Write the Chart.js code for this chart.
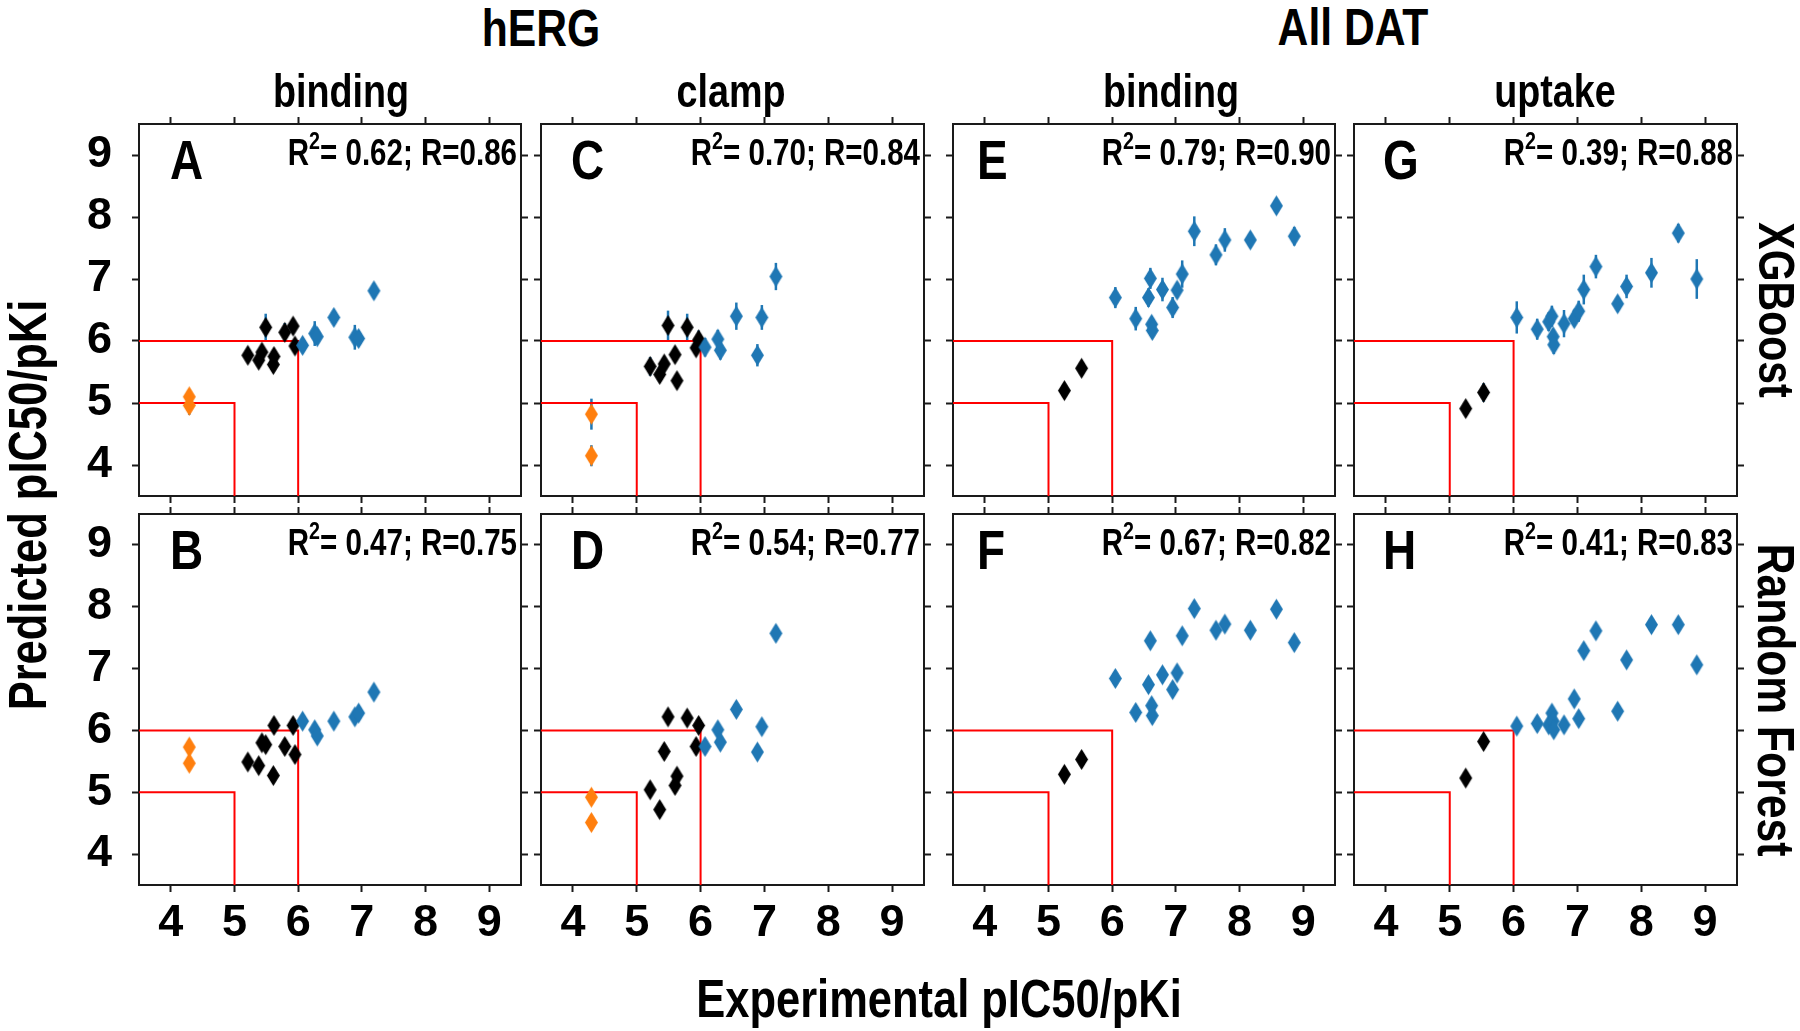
<!DOCTYPE html>
<html>
<head>
<meta charset="utf-8">
<script src="https://cdn.jsdelivr.net/npm/chart.js@4.4.1/dist/chart.umd.min.js"></script>
<style>
  body { margin: 0; background: #fff; width: 1800px; height: 1031px; position: relative; overflow: hidden; }
  canvas { position: absolute; }
  .lbl { position: absolute; font-weight: bold; white-space: nowrap; line-height: 1; color: #000; }
</style>
</head>
<body>
<script>
// ---- experimental values (x axis), shared by the XGBoost and Random Forest rows ----
const hergBindExpOrange = [4.29, 4.29];
const hergBindExpBlack = [5.21, 5.38, 5.43, 5.49, 5.62, 5.61, 5.79, 5.92, 5.95];
const hergBindExpBlue = [6.07, 6.26, 6.30, 6.56, 6.89, 6.95, 7.19];
const hergClampExpOrange = [4.29, 4.29];
const hergClampExpBlack = [5.21, 5.36, 5.43, 5.49, 5.60, 5.63, 5.79, 5.93, 5.97];
const hergClampExpBlue = [6.07, 6.27, 6.31, 6.56, 6.89, 6.96, 7.18];
const datBindExpBlack = [5.25, 5.52];
const datBindExpBlue = [6.05, 6.37, 6.57, 6.60, 6.62, 6.63, 6.79, 6.95, 7.02, 7.10, 7.29, 7.63, 7.77, 8.17, 8.58, 8.86];
const datUptakeExpBlack = [5.25, 5.53];
const datUptakeExpBlue = [6.05, 6.37, 6.55, 6.60, 6.62, 6.63, 6.79, 6.95, 7.02, 7.10, 7.29, 7.63, 7.77, 8.16, 8.58, 8.87];

// ---- XGBoost predictions (panels A, C, E, G) and their error bars ----
const xgbHergBindOrange = [5.10, 4.96];
const xgbHergBindOrangeErr = [0.12, 0.15];
const xgbHergBindBlack = [5.77, 5.69, 5.82, 6.22, 5.75, 5.62, 6.14, 6.24, 5.92];
const xgbHergBindBlackErr = [0.08, 0.08, 0.08, 0.22, 0.08, 0.10, 0.15, 0.08, 0.10];
const xgbHergBindBlue = [5.93, 6.12, 6.07, 6.38, 6.06, 6.04, 6.81];
const xgbHergBindBlueErr = [0.10, 0.20, 0.12, 0.10, 0.20, 0.12, 0.12];

const xgbHergClampOrange = [4.82, 4.15];
const xgbHergClampOrangeErr = [0.25, 0.17];
const xgbHergClampBlack = [5.59, 5.46, 5.63, 6.25, 5.78, 5.36, 6.22, 5.89, 6.02];
const xgbHergClampBlackErr = [0.15, 0.12, 0.12, 0.24, 0.10, 0.08, 0.22, 0.10, 0.15];
const xgbHergClampBlue = [5.90, 6.03, 5.85, 6.40, 5.77, 6.38, 7.04];
const xgbHergClampBlueErr = [0.15, 0.15, 0.15, 0.22, 0.18, 0.20, 0.22];

const xgbDatBindBlack = [5.20, 5.56];
const xgbDatBindBlackErr = [0.08, 0.08];
const xgbDatBindBlue = [6.70, 6.36, 6.70, 7.01, 6.27, 6.17, 6.83, 6.54, 6.82, 7.08, 7.77, 7.39, 7.63, 7.63, 8.18, 7.69];
const xgbDatBindBlueErr = [0.17, 0.19, 0.15, 0.17, 0.12, 0.12, 0.19, 0.17, 0.12, 0.22, 0.24, 0.17, 0.19, 0.12, 0.10, 0.15];

const xgbDatUptakeBlack = [4.91, 5.17];
const xgbDatUptakeBlackErr = [0.08, 0.15];
const xgbDatUptakeBlue = [6.38, 6.19, 6.31, 6.40, 6.07, 5.94, 6.28, 6.36, 6.48, 6.83, 7.20, 6.60, 6.88, 7.10, 7.74, 7.00];
const xgbDatUptakeBlueErr = [0.26, 0.17, 0.15, 0.17, 0.12, 0.15, 0.22, 0.12, 0.17, 0.24, 0.19, 0.12, 0.19, 0.24, 0.15, 0.32];

// ---- Random Forest predictions (panels B, D, F, H) ----
const rfHergBindOrange = [5.73, 5.47];
const rfHergBindBlack = [5.49, 5.43, 5.80, 5.77, 6.08, 5.27, 5.74, 6.08, 5.61];
const rfHergBindBlue = [6.15, 6.01, 5.91, 6.15, 6.22, 6.28, 6.62];
const rfHergClampOrange = [4.92, 4.51];
const rfHergClampBlack = [5.04, 4.72, 5.66, 6.22, 5.11, 5.26, 6.20, 5.74, 6.08];
const rfHergClampBlue = [5.74, 6.01, 5.81, 6.34, 5.65, 6.06, 7.57];
const rfDatBindBlack = [5.29, 5.53];
const rfDatBindBlue = [6.84, 6.29, 6.74, 7.45, 6.40, 6.24, 6.90, 6.66, 6.93, 7.53, 7.97, 7.62, 7.72, 7.62, 7.96, 7.42];
const rfDatUptakeBlack = [5.23, 5.82];
const rfDatUptakeBlue = [6.07, 6.11, 6.09, 6.28, 6.15, 6.01, 6.09, 6.51, 6.19, 7.29, 7.61, 6.31, 7.14, 7.71, 7.71, 7.06];

// ---- axes, thresholds, annotations ----
const tickValues = [4, 5, 6, 7, 8, 9];
const axisRange = [3.5, 9.5];
const thresholds = [5, 6];
const panelLetters = ['A', 'B', 'C', 'D', 'E', 'F', 'G', 'H'];
const r2Values = ['0.62', '0.47', '0.70', '0.54', '0.79', '0.67', '0.39', '0.41'];
const rValues = ['0.86', '0.75', '0.84', '0.77', '0.90', '0.82', '0.88', '0.83'];
const groupTitles = ['hERG', 'All DAT'];
const columnTitles = ['binding', 'clamp', 'binding', 'uptake'];
const rowTitles = ['XGBoost', 'Random Forest'];

const ORANGE = '#ff7f0e', BLACK = '#000000', BLUE = '#1f77b4';
const NARROW = "'Liberation Sans Narrow', 'Arial Narrow', 'Liberation Sans', Arial, sans-serif";

// is the narrow face installed? if not, squeeze the regular one
function hasFont(name) {
    const c = document.createElement('canvas').getContext('2d');
    c.font = '40px monospace';
    const w0 = c.measureText('abcdefghijklmnop').width;
    c.font = `40px '${name}', monospace`;
    return c.measureText('abcdefghijklmnop').width !== w0;
}
const SQUEEZE = hasFont('Liberation Sans Narrow') ? 1 : 0.82;

// panel boxes in page pixels
const colLeft = [139, 541, 953, 1354];
const colRight = [521, 924, 1335, 1737];
const rowTop = [124, 514];
const rowBottom = [496, 885];
const letterDx = [31, 30, 24, 29];
const PAD_L = 70, PAD_R = 12, PAD_T = 12, PAD_B = 70;

// thin diamond marker like matplotlib 'd'
function diamond(color) {
    const c = document.createElement('canvas');
    c.width = 15; c.height = 23;
    const g = c.getContext('2d');
    g.fillStyle = color;
    g.beginPath();
    g.moveTo(7.5, 1); g.lineTo(14, 11.5); g.lineTo(7.5, 22); g.lineTo(1, 11.5);
    g.closePath();
    g.fill();
    return c;
}
const markers = { [ORANGE]: diamond(ORANGE), [BLACK]: diamond(BLACK), [BLUE]: diamond(BLUE) };

// vertical error bars, drawn under the markers
const errorBars = {
    id: 'errorBars',
    beforeDatasetsDraw(chart) {
        const { ctx, scales } = chart;
        ctx.save();
        ctx.strokeStyle = BLUE;
        ctx.lineWidth = 2.5;
        chart.data.datasets.forEach(ds => {
            if (!ds.errors) return;
            ds.data.forEach((pt, i) => {
                const px = scales.x.getPixelForValue(pt.x);
                ctx.beginPath();
                ctx.moveTo(px, scales.y.getPixelForValue(pt.y - ds.errors[i]));
                ctx.lineTo(px, scales.y.getPixelForValue(pt.y + ds.errors[i]));
                ctx.stroke();
            });
        });
        ctx.restore();
    }
};

function drawText(ctx, text, x, y, font) {
    ctx.font = font;
    ctx.save();
    ctx.translate(x, y);
    ctx.scale(SQUEEZE, 1);
    ctx.fillText(text, 0, 0);
    ctx.restore();
    return ctx.measureText(text).width * SQUEEZE;
}

// panel letter and R^2 / R annotation
const panelText = {
    id: 'panelText',
    afterDraw(chart, args, opts) {
        const { ctx, chartArea: a } = chart;
        ctx.save();
        ctx.fillStyle = '#000';
        ctx.textAlign = 'left';
        ctx.textBaseline = 'alphabetic';
        drawText(ctx, opts.letter, a.left + opts.dx, a.top + 55, `bold 56px ${NARROW}`);

        const big = `bold 36px ${NARROW}`, small = `bold 24px ${NARROW}`;
        const parts = [['R', big, 0], ['2', small, -16], [`= ${opts.r2}; R=${opts.r}`, big, 0]];
        let total = 0;
        parts.forEach(p => { ctx.font = p[1]; total += ctx.measureText(p[0]).width * SQUEEZE; });
        let x = a.right - 4 - total;
        parts.forEach(p => { x += drawText(ctx, p[0], x, a.top + 41 + p[2], p[1]); });
        ctx.restore();
    }
};

function axis(pos, showLabels, size) {
    const horiz = pos === 'top' || pos === 'bottom';
    return {
        type: 'linear',
        position: pos,
        min: axisRange[0],
        max: axisRange[1],
        afterBuildTicks: s => { s.ticks = tickValues.map(v => ({ value: v })); },
        afterFit: s => {
            if (horiz) s.height = size; else s.width = size;
            // keep the plot box fixed: no extra room for edge labels
            s.paddingTop = s.paddingBottom = s.paddingLeft = s.paddingRight = 0;
        },
        grid: { drawOnChartArea: false, drawTicks: true, tickLength: 7, tickWidth: 2, tickColor: '#1a1a1a' },
        border: { display: true, color: '#1a1a1a', width: 2 },
        ticks: {
            display: showLabels,
            autoSkip: false,
            minRotation: 0,
            maxRotation: 0,
            color: '#000',
            padding: horiz ? 9 : 20,
            font: { size: 45, weight: 'bold', family: NARROW, lineHeight: 1 },
            callback: v => String(v)
        }
    };
}

function makePanel(col, row, groups) {
    const idx = col * 2 + row;
    const left = colLeft[col], top = rowTop[row];
    const w = colRight[col] - left + PAD_L + PAD_R;
    const h = rowBottom[row] - top + PAD_T + PAD_B;
    const cv = document.createElement('canvas');
    cv.width = w; cv.height = h;
    cv.style.width = w + 'px'; cv.style.height = h + 'px';
    cv.style.left = (left - PAD_L) + 'px';
    cv.style.top = (top - PAD_T) + 'px';
    document.body.appendChild(cv);

    const datasets = groups.map(g => ({
        data: g.x.map((x, i) => ({ x: x, y: g.y[i] })),
        errors: g.err || null,
        pointStyle: markers[g.color],
        pointRadius: 10,
        backgroundColor: g.color,
        borderColor: g.color
    }));
    // red threshold boxes, drawn underneath the points
    thresholds.forEach(t => {
        datasets.push({
            data: [{ x: axisRange[0], y: t }, { x: t, y: t }, { x: t, y: axisRange[0] }],
            showLine: true,
            borderColor: '#ff0000',
            borderWidth: 2,
            pointRadius: 0,
            fill: false
        });
    });

    new Chart(cv, {
        type: 'scatter',
        data: { datasets },
        options: {
            responsive: false,
            animation: false,
            devicePixelRatio: 1,
            events: [],
            layout: { padding: 0, autoPadding: false },
            scales: {
                x: axis('bottom', row === 1, PAD_B),
                x2: axis('top', false, PAD_T),
                y: axis('left', col === 0, PAD_L),
                y2: axis('right', false, PAD_R)
            },
            plugins: {
                legend: { display: false },
                tooltip: { enabled: false },
                panelText: { letter: panelLetters[idx], dx: letterDx[col], r2: r2Values[idx], r: rValues[idx] }
            }
        },
        plugins: [errorBars, panelText]
    });
}

const g = (x, y, color, err) => ({ x, y, color, err });

makePanel(0, 0, [g(hergBindExpBlue, xgbHergBindBlue, BLUE, xgbHergBindBlueErr),
                 g(hergBindExpBlack, xgbHergBindBlack, BLACK, xgbHergBindBlackErr),
                 g(hergBindExpOrange, xgbHergBindOrange, ORANGE, xgbHergBindOrangeErr)]);
makePanel(0, 1, [g(hergBindExpBlue, rfHergBindBlue, BLUE),
                 g(hergBindExpBlack, rfHergBindBlack, BLACK),
                 g(hergBindExpOrange, rfHergBindOrange, ORANGE)]);
makePanel(1, 0, [g(hergClampExpBlue, xgbHergClampBlue, BLUE, xgbHergClampBlueErr),
                 g(hergClampExpBlack, xgbHergClampBlack, BLACK, xgbHergClampBlackErr),
                 g(hergClampExpOrange, xgbHergClampOrange, ORANGE, xgbHergClampOrangeErr)]);
makePanel(1, 1, [g(hergClampExpBlue, rfHergClampBlue, BLUE),
                 g(hergClampExpBlack, rfHergClampBlack, BLACK),
                 g(hergClampExpOrange, rfHergClampOrange, ORANGE)]);
makePanel(2, 0, [g(datBindExpBlue, xgbDatBindBlue, BLUE, xgbDatBindBlueErr),
                 g(datBindExpBlack, xgbDatBindBlack, BLACK, xgbDatBindBlackErr)]);
makePanel(2, 1, [g(datBindExpBlue, rfDatBindBlue, BLUE),
                 g(datBindExpBlack, rfDatBindBlack, BLACK)]);
makePanel(3, 0, [g(datUptakeExpBlue, xgbDatUptakeBlue, BLUE, xgbDatUptakeBlueErr),
                 g(datUptakeExpBlack, xgbDatUptakeBlack, BLACK, xgbDatUptakeBlackErr)]);
makePanel(3, 1, [g(datUptakeExpBlue, rfDatUptakeBlue, BLUE),
                 g(datUptakeExpBlack, rfDatUptakeBlack, BLACK)]);

// headings and axis titles as page text
function label(text, cx, cy, size, rotate) {
    const d = document.createElement('div');
    d.className = 'lbl';
    d.textContent = text;
    d.style.fontFamily = NARROW;
    d.style.fontSize = size + 'px';
    d.style.left = cx + 'px';
    d.style.top = cy + 'px';
    d.style.transform = `translate(-50%, -50%) rotate(${rotate || 0}deg) scaleX(${SQUEEZE})`;
    document.body.appendChild(d);
}
label(groupTitles[0], 541, 28, 52);
label(groupTitles[1], 1353, 27, 52);
[341, 731, 1171, 1555].forEach((cx, i) => label(columnTitles[i], cx, 91, 46));
label(rowTitles[0], 1776, 310, 50, 90);
label(rowTitles[1], 1776, 700, 52, 90);
label('Predicted pIC50/pKi', 27, 505, 53, -90);
label('Experimental pIC50/pKi', 939, 998, 53);
</script>
</body>
</html>
